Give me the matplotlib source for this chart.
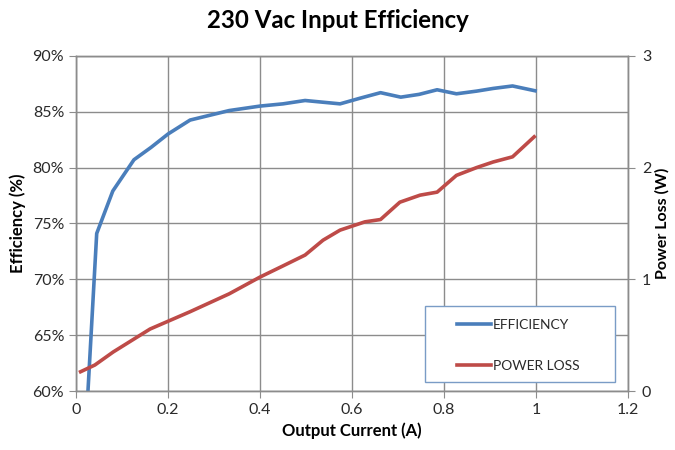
import matplotlib
matplotlib.use("Agg")
import matplotlib.pyplot as plt
from matplotlib.ticker import FuncFormatter
from matplotlib.patches import Rectangle

plt.rcParams['font.family'] = ['Lato', 'DejaVu Sans']

# Data
eff_current = [0.026, 0.045, 0.080, 0.126, 0.163, 0.200, 0.248, 0.333, 0.400, 0.450,
               0.498, 0.574, 0.617, 0.662, 0.706, 0.746, 0.785, 0.827, 0.871, 0.907,
               0.949, 0.998]
efficiency = [60.0, 74.1, 77.9, 80.7, 81.8, 83.0, 84.25, 85.1, 85.5, 85.7,
              86.0, 85.7, 86.2, 86.7, 86.3, 86.55, 86.96, 86.6, 86.84, 87.08,
              87.3, 86.87]

loss_current = [0.010, 0.041, 0.081, 0.161, 0.248, 0.333, 0.400, 0.450, 0.498, 0.537,
                0.574, 0.628, 0.662, 0.704, 0.748, 0.785, 0.827, 0.871, 0.907, 0.949,
                0.996]
power_loss = [0.173, 0.233, 0.35, 0.555, 0.71, 0.87, 1.02, 1.12, 1.217, 1.35,
              1.44, 1.514, 1.535, 1.69, 1.753, 1.78, 1.93, 2.0, 2.05, 2.096,
              2.275]

x_ticks = [0, 0.2, 0.4, 0.6, 0.8, 1.0, 1.2]
x_tick_labels = ['0', '0.2', '0.4', '0.6', '0.8', '1', '1.2']
y_ticks = [60, 65, 70, 75, 80, 85, 90]
y2_ticks = [0, 1, 2, 3]

blue = '#4a7ebb'
red = '#be4b48'
grid_c = '#8c8c8c'
text_c = '#2a2a2a'

fig = plt.figure(figsize=(6.75, 4.5), dpi=100)
ax = fig.add_axes([0.1126, 0.131, 0.8178, 0.745])
ax2 = ax.twinx()

ax.set_xlim(0, 1.2)
ax.set_ylim(60, 90)
ax2.set_ylim(0, 3)

ax.set_xticks(x_ticks)
ax.set_xticklabels(x_tick_labels)
ax.set_yticks(y_ticks)
ax.yaxis.set_major_formatter(FuncFormatter(lambda v, p: f"{v:.0f}%"))
ax2.set_yticks(y2_ticks)

ax.grid(True, color=grid_c, linewidth=1.0)
ax.set_axisbelow(True)

l1, = ax.plot(eff_current, efficiency, color=blue, linewidth=2.6,
              solid_joinstyle='round', label='EFFICIENCY')
l2, = ax2.plot(loss_current, power_loss, color=red, linewidth=2.6,
               solid_joinstyle='round', label='POWER LOSS')

for a in (ax, ax2):
    for s in a.spines.values():
        s.set_color(grid_c)
        s.set_linewidth(1.0)
    a.tick_params(colors=text_c, labelsize=11.5, length=5, color=grid_c)
ax2.tick_params(pad=5)

ax.set_xlabel('Output Current (A)', fontsize=12, fontweight='bold', labelpad=4)
ax.set_ylabel('Efficiency (%)', fontsize=12, fontweight='bold', labelpad=5)
ax2.set_ylabel('Power Loss (W)', fontsize=11.5, fontweight='bold', labelpad=3)

fig.text(0.5, 0.955, '230 Vac Input Efficiency', ha='center', va='center',
         fontsize=17.3, fontweight='bold')

# legend box
box = Rectangle((0.632, 0.027), 0.344, 0.227, transform=ax2.transAxes,
                facecolor='white', edgecolor='#7a9cc6', linewidth=1.0, zorder=5)
ax2.add_patch(box)
leg = ax2.legend(handles=[l1, l2], loc='upper left',
                 bbox_to_anchor=(0.691, 0.214), borderaxespad=0,
                 fontsize=10, frameon=False, handlelength=2.4,
                 handletextpad=0.15, labelspacing=2.05, borderpad=0)
leg.set_zorder(6)
for t in leg.get_texts():
    t.set_color(text_c)

fig.savefig('out.png', dpi=100)
